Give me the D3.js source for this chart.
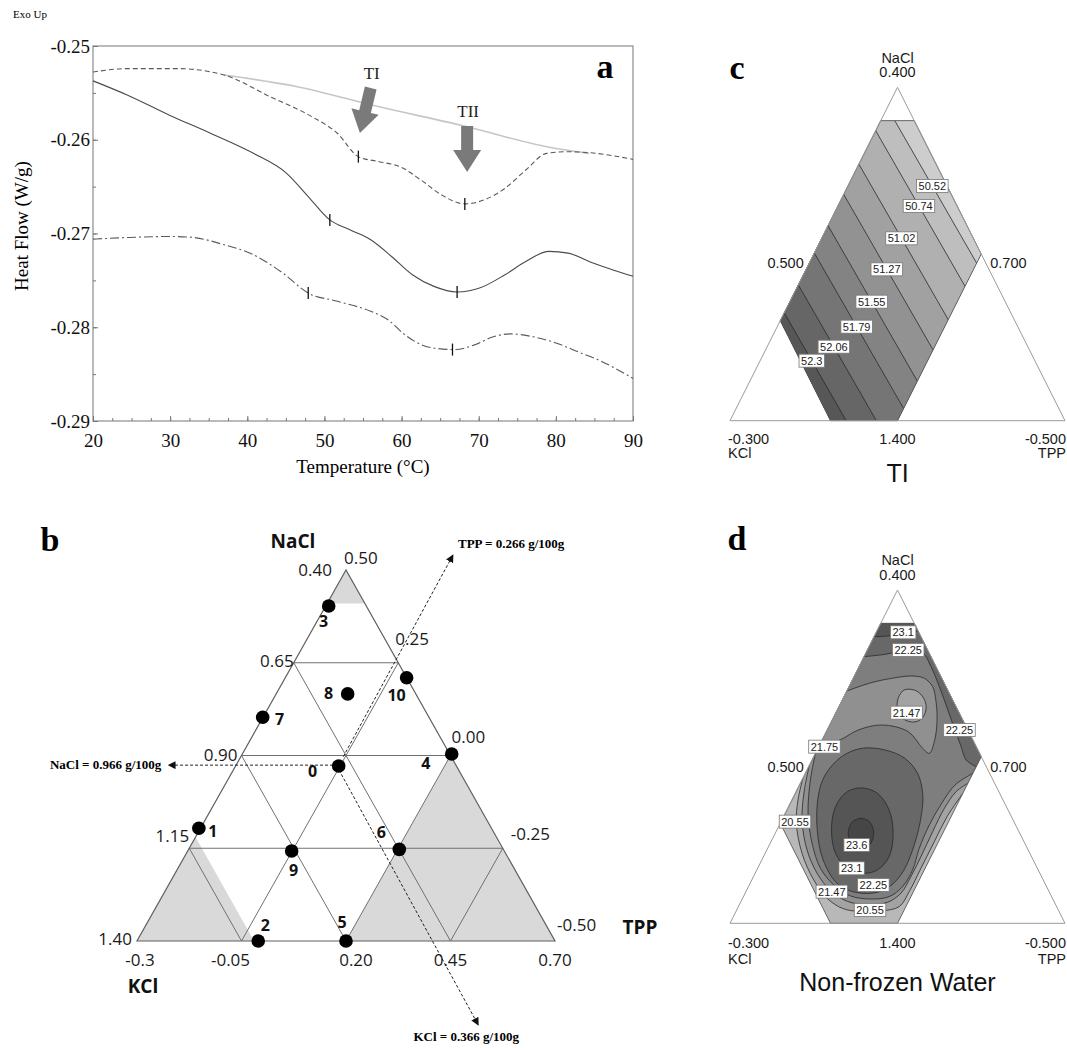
<!DOCTYPE html>
<html>
<head>
<meta charset="utf-8">
<script src="https://cdn.jsdelivr.net/npm/d3@7"></script>
<style>
  body { margin: 0; background: #fff; }
  svg { display: block; }
</style>
</head>
<body>
<script>

// ---------------- DATA ----------------

// panel a : DSC thermograms, [temperature C, heat flow W/g]
const tempTicks = [20, 30, 40, 50, 60, 70, 80, 90];
const flowTicks = [-0.25, -0.26, -0.27, -0.28, -0.29];

const dscBaseline = [[37.0,-0.2531],[46.2,-0.25429],[57.1,-0.25649],[68.0,-0.25851],[78.8,-0.26074],[84.3,-0.26145]];
const dscDashed = [[20,-0.25277],[24.5,-0.25241],[31,-0.25241],[37,-0.2531],[43,-0.25543],[48.4,-0.25755],[51.7,-0.25933],[54.4,-0.2618],[57.1,-0.26234],[59.8,-0.26287],[62.5,-0.26429],[65.2,-0.26589],[68.2,-0.26684],[70.7,-0.26642],[73.4,-0.26518],[76.1,-0.26323],[78.8,-0.26145],[81.6,-0.26128],[84.3,-0.26138],[90,-0.26209]];
const dscSolid = [[20,-0.25372],[24.5,-0.25525],[29.9,-0.25738],[35.3,-0.25933],[40.8,-0.26145],[45.1,-0.26358],[47.9,-0.26606],[50.7,-0.26855],[53.3,-0.26961],[56,-0.27067],[58.7,-0.27245],[61.4,-0.2744],[64.2,-0.27564],[67.2,-0.27624],[70.1,-0.27582],[73.4,-0.2744],[76.1,-0.27298],[79.1,-0.27191],[81.6,-0.27209],[84.3,-0.27298],[90,-0.27457]];
const dscDashDot = [[20,-0.2706],[24.5,-0.27043],[29.9,-0.27032],[32.6,-0.27039],[37,-0.2712],[40.8,-0.27227],[44.6,-0.27422],[47.9,-0.27635],[51.7,-0.27723],[56,-0.2783],[58.2,-0.27918],[60.4,-0.28078],[62.5,-0.28184],[64.7,-0.28227],[66.9,-0.28238],[69.6,-0.28184],[71.8,-0.28103],[74.2,-0.28071],[76.7,-0.28096],[80,-0.28167],[83.2,-0.28273],[85.4,-0.28344],[90,-0.28546]];
const peakMarks = [[54.4,-0.2618],[68.2,-0.26684],[50.7,-0.26855],[67.2,-0.27624],[47.9,-0.27635],[66.6,-0.28238]];
const peakArrows = [
  {name: "TI",  tail: [56.0, -0.25448], tip: [54.6, -0.25928]},
  {name: "TII", tail: [68.5, -0.25853], tip: [68.5, -0.26344]}
];

// panel b : mixture design, [run, u, v, label dx, label dy]   (u across base, v up, 0..1)
const designRuns = [
  ["0", 0.4825, 0.4717, -26, 5], ["1", 0.148, 0.3038, 14, 3], ["2", 0.29, 0, 7, -16],
  ["3", 0.4586, 0.903, -5, 15], ["4", 0.7529, 0.504, -26, 9], ["5", 0.5, 0, -4, -19],
  ["6", 0.6275, 0.247, -18, -17], ["7", 0.3007, 0.603, 17, 2], ["8", 0.504, 0.666, -19, -1],
  ["9", 0.37, 0.2426, 2, 19], ["10", 0.645, 0.7097, -10, 17]
];
const gridLevels = [0.25, 0.5, 0.75];
const naclTicks = ["0.40", "0.65", "0.90", "1.15", "1.40"];
const tppTicks = ["0.50", "0.25", "0.00", "-0.25", "-0.50"];
const kclTicks = ["-0.3", "-0.05", "0.20", "0.45", "0.70"];
const excluded = [
  [[0.5,1],[0.455,0.91],[0.545,0.91]],
  [[0,0],[0.25,0],[0.125,0.25]],
  [[0.125,0.25],[0.14,0.28],[0.28,0],[0.25,0]],
  [[0.5,0],[1,0],[0.75,0.5]]
];
const optimumLines = [
  {text: "NaCl = 0.966 g/100g", from: [0.469,0.474], to: [0.075,0.474]},
  {text: "TPP = 0.266 g/100g", from: [0.4935,0.4968], to: [0.756,1.0404]},
  {text: "KCl = 0.366 g/100g", from: [0.4833,0.4609], to: [0.8165,-0.2264]}
];

// panels c and d : feasible region of the design in the same frame
const mixRegion = [[0.45,0.9],[0.55,0.9],[0.75,0.5],[0.5,0],[0.3,0],[0.15,0.3]];

// panel c : TI contours (straight lines), level and label position, line ends
const tiLevels = [50.52, 50.74, 51.02, 51.27, 51.55, 51.79, 52.06, 52.3];
const tiLabelAt = [[0.604,0.704],[0.564,0.644],[0.512,0.547],[0.468,0.454],[0.423,0.357],[0.378,0.282],[0.31,0.222],[0.244,0.18]];
const tiLines = [
  [[0.154,1.491],[1.054,-0.083]], [[0.114,1.431],[1.014,-0.143]], [[0.062,1.334],[0.962,-0.24]],
  [[0.018,1.241],[0.918,-0.333]], [[-0.027,1.144],[0.873,-0.43]], [[-0.072,1.069],[0.828,-0.505]],
  [[-0.14,1.009],[0.76,-0.565]], [[-0.206,0.967],[0.694,-0.607]]
];

// panel d : non-frozen water contours
const nfw2055 = [[0.218,0.436],[0.203,0.37],[0.198,0.30],[0.215,0.21],[0.25,0.13],[0.29,0.075],[0.335,0.045],[0.39,0.035],[0.45,0.037],[0.505,0.05],[0.535,0.095],[0.57,0.165],[0.61,0.245],[0.648,0.32],[0.695,0.39]];
const nfw2147 = [[0.237,0.474],[0.222,0.40],[0.215,0.31],[0.23,0.22],[0.26,0.15],[0.3,0.098],[0.35,0.066],[0.41,0.056],[0.47,0.063],[0.51,0.09],[0.54,0.14],[0.57,0.2],[0.605,0.275],[0.64,0.345],[0.675,0.395],[0.71,0.42]];
const nfw2175 = [[0.255,0.51],[0.24,0.43],[0.233,0.33],[0.245,0.24],[0.27,0.165],[0.31,0.115],[0.36,0.082],[0.42,0.073],[0.475,0.08],[0.515,0.11],[0.545,0.16],[0.565,0.225],[0.595,0.295],[0.632,0.36],[0.672,0.415],[0.725,0.45]];
const nfwTongue = [[0.349,0.697],[0.393,0.713],[0.433,0.725],[0.483,0.735],[0.542,0.742],[0.58,0.735],[0.605,0.71],[0.615,0.665],[0.618,0.605],[0.61,0.545],[0.595,0.51],[0.575,0.525],[0.532,0.575],[0.453,0.595],[0.383,0.58],[0.323,0.548],[0.27,0.54]];
const nfwIsland = [[0.52,0.70],[0.555,0.698],[0.58,0.672],[0.585,0.64],[0.57,0.612],[0.545,0.604],[0.515,0.615],[0.5,0.64],[0.502,0.675]];
const nfw2225Top = [[0.4,0.8],[0.463,0.807],[0.532,0.82],[0.575,0.812],[0.6,0.77],[0.625,0.71],[0.645,0.655],[0.668,0.59],[0.69,0.53],[0.705,0.49],[0.735,0.47]];
const nfw2225Egg = [[0.264,0.385],[0.284,0.445],[0.333,0.5],[0.393,0.525],[0.463,0.52],[0.522,0.495],[0.56,0.45],[0.575,0.39],[0.572,0.33],[0.55,0.235],[0.51,0.145],[0.46,0.1],[0.393,0.09],[0.325,0.115],[0.278,0.19],[0.26,0.285]];
const nfw231Top = [[0.43,0.86],[0.47,0.862],[0.52,0.87],[0.562,0.877]];
const nfw231Egg = [[0.395,0.406],[0.44,0.39],[0.475,0.34],[0.487,0.27],[0.475,0.2],[0.44,0.16],[0.395,0.15],[0.35,0.165],[0.315,0.21],[0.303,0.28],[0.315,0.35],[0.35,0.395]];
const nfw236 = [[0.391,0.315],[0.418,0.303],[0.429,0.27],[0.418,0.237],[0.391,0.225],[0.364,0.237],[0.353,0.27],[0.364,0.303]];
const nfwLabels = [
  ["23.1",0.517,0.873],["22.25",0.532,0.82],["21.47",0.527,0.632],["22.25",0.685,0.58],
  ["21.75",0.282,0.53],["20.55",0.194,0.305],["23.6",0.378,0.235],["23.1",0.363,0.165],
  ["22.25",0.428,0.115],["21.47",0.304,0.095],["20.55",0.418,0.04]
];

// ---------------- SETUP ----------------

const svg = d3.select("body").append("svg")
  .attr("width", 1067)
  .attr("height", 1048);

const serif = "Liberation Serif, Times New Roman, serif";
const sans = "Liberation Sans, Arial, sans-serif";
const calib = "Open Sans, Liberation Sans, sans-serif";

// ================= PANEL A =================

const boxA = { left: 93, right: 633, top: 46, bottom: 421 };
const xA = d3.scaleLinear().domain([20, 90]).range([boxA.left, boxA.right]);
const yA = d3.scaleLinear().domain([-0.29, -0.25]).range([boxA.bottom, boxA.top]);

const gA = svg.append("g");

gA.append("rect")
  .attr("x", boxA.left).attr("y", boxA.top)
  .attr("width", boxA.right - boxA.left)
  .attr("height", boxA.bottom - boxA.top)
  .attr("fill", "none").attr("stroke", "#8c8c8c").attr("stroke-width", 1.2);

// minor ticks, pointing inside
gA.append("g").attr("transform", `translate(0,${boxA.bottom})`)
  .call(d3.axisBottom(xA).tickValues(d3.range(20, 90.01, 2.5)).tickSize(-3).tickFormat(""))
  .call(g => g.select(".domain").remove());
gA.append("g").attr("transform", `translate(${boxA.left},0)`)
  .call(d3.axisLeft(yA).tickValues(d3.range(-0.29, -0.2499, 0.005)).tickSize(-3).tickFormat(""))
  .call(g => g.select(".domain").remove());

const xAxisA = gA.append("g").attr("transform", `translate(0,${boxA.bottom})`)
  .call(d3.axisBottom(xA).tickValues(tempTicks).tickSize(-5).tickPadding(13).tickFormat(d => d));
const yAxisA = gA.append("g").attr("transform", `translate(${boxA.left},0)`)
  .call(d3.axisLeft(yA).tickValues(flowTicks).tickSize(-5).tickPadding(3).tickFormat(d => d.toFixed(2)));

[xAxisA, yAxisA].forEach(ax => {
  ax.select(".domain").remove();
  ax.selectAll("text").attr("font-family", serif).style("font-size", "19px").attr("fill", "#111");
});
gA.selectAll(".tick line").attr("stroke", "#777");

const lineA = d3.line().x(d => xA(d[0])).y(d => yA(d[1])).curve(d3.curveMonotoneX);

gA.append("path").datum(dscBaseline).attr("d", lineA)
  .attr("fill", "none").attr("stroke", "#c6c6c6").attr("stroke-width", 1.6);
gA.append("path").datum(dscDashed).attr("d", lineA)
  .attr("fill", "none").attr("stroke", "#5a5a5a").attr("stroke-width", 1.1).attr("stroke-dasharray", "5,3");
gA.append("path").datum(dscSolid).attr("d", lineA)
  .attr("fill", "none").attr("stroke", "#4a4a4a").attr("stroke-width", 1.1);
gA.append("path").datum(dscDashDot).attr("d", lineA)
  .attr("fill", "none").attr("stroke", "#5a5a5a").attr("stroke-width", 1.1).attr("stroke-dasharray", "9,3,2,3");

gA.selectAll("line.mark").data(peakMarks).enter().append("line")
  .attr("class", "mark")
  .attr("x1", d => xA(d[0])).attr("x2", d => xA(d[0]))
  .attr("y1", d => yA(d[1]) - 6).attr("y2", d => yA(d[1]) + 6)
  .attr("stroke", "#111").attr("stroke-width", 1.3);

// block arrows TI / TII
peakArrows.forEach(a => {
  const x0 = xA(a.tail[0]), y0 = yA(a.tail[1]);
  const x1 = xA(a.tip[0]), y1 = yA(a.tip[1]);
  const L = Math.hypot(x1 - x0, y1 - y0);
  const ang = Math.atan2(y1 - y0, x1 - x0) * 180 / Math.PI;
  const h = 22;
  const pts = [[0,-6],[L-h,-6],[L-h,-14],[L,0],[L-h,14],[L-h,6],[0,6]];
  gA.append("polygon")
    .attr("points", pts.map(p => p.join(",")).join(" "))
    .attr("transform", `translate(${x0},${y0}) rotate(${ang})`)
    .attr("fill", "#7a7a7a");
  gA.append("text").attr("x", x0 + 1).attr("y", y0 - 9)
    .attr("text-anchor", "middle").attr("font-family", serif)
    .style("font-size", "17px").attr("fill", "#222").text(a.name);
});

gA.append("text").attr("x", 605).attr("y", 78).attr("text-anchor", "middle")
  .attr("font-family", serif).attr("font-weight", "bold").style("font-size", "34px").text("a");
gA.append("text").attr("x", 13).attr("y", 18)
  .attr("font-family", serif).style("font-size", "11px").text("Exo Up");
gA.append("text").attr("transform", "translate(28,226) rotate(-90)").attr("text-anchor", "middle")
  .attr("font-family", serif).style("font-size", "19px").text("Heat Flow (W/g)");
gA.append("text").attr("x", 363).attr("y", 473).attr("text-anchor", "middle")
  .attr("font-family", serif).style("font-size", "19px").text("Temperature (\u00B0C)");

// ================= PANEL B =================

const xB = d3.scaleLinear().domain([0, 1]).range([137, 555]);
const yB = d3.scaleLinear().domain([0, 1]).range([941, 570]);
const lineB = d3.line().x(d => xB(d[0])).y(d => yB(d[1]));
const gB = svg.append("g");

gB.selectAll("path.excl").data(excluded).enter().append("path")
  .attr("class", "excl").attr("d", d => lineB(d) + "Z")
  .attr("fill", "#d9d9d9");

const gridSegs = [];
gridLevels.forEach(k => {
  gridSegs.push([[k / 2, k], [1 - k / 2, k]]);               // parallel to base
  gridSegs.push([[k, 0], [k / 2, k]]);                       // parallel to right side
  gridSegs.push([[k, 0], [(1 + k) / 2, 1 - k]]);             // parallel to left side
});
gB.selectAll("path.grid").data(gridSegs).enter().append("path")
  .attr("class", "grid").attr("d", lineB)
  .attr("stroke", "#707070").attr("stroke-width", 1).attr("fill", "none");
gB.append("path").attr("d", lineB([[0,0],[1,0],[0.5,1]]) + "Z")
  .attr("fill", "none").attr("stroke", "#606060").attr("stroke-width", 1.2);

svg.append("defs").append("marker")
  .attr("id", "ah").attr("viewBox", "0 0 10 10").attr("refX", 9).attr("refY", 5)
  .attr("markerWidth", 8).attr("markerHeight", 8).attr("markerUnits", "userSpaceOnUse")
  .attr("orient", "auto")
  .append("path").attr("d", "M0,0 L10,5 L0,10 Z").attr("fill", "#111");

gB.selectAll("line.opt").data(optimumLines).enter().append("line")
  .attr("class", "opt")
  .attr("x1", d => xB(d.from[0])).attr("y1", d => yB(d.from[1]))
  .attr("x2", d => xB(d.to[0])).attr("y2", d => yB(d.to[1]))
  .attr("stroke", "#222").attr("stroke-width", 1).attr("stroke-dasharray", "3,2")
  .attr("marker-end", "url(#ah)");

const optText = gB.append("g").attr("font-family", serif).attr("font-weight", "bold").style("font-size", "13px");
optText.append("text").attr("x", xB(optimumLines[0].to[0]) - 7).attr("y", yB(optimumLines[0].to[1]) + 4)
  .attr("text-anchor", "end").text(optimumLines[0].text);
optText.append("text").attr("x", xB(optimumLines[1].to[0]) + 5).attr("y", yB(optimumLines[1].to[1]) - 7)
  .attr("text-anchor", "start").text(optimumLines[1].text);
optText.append("text").attr("x", xB(optimumLines[2].to[0]) - 12).attr("y", yB(optimumLines[2].to[1]) + 16)
  .attr("text-anchor", "middle").text(optimumLines[2].text);

gB.selectAll("circle").data(designRuns).enter().append("circle")
  .attr("cx", d => xB(d[1])).attr("cy", d => yB(d[2])).attr("r", 6.8)
  .attr("fill", "#000");
gB.selectAll("text.run").data(designRuns).enter().append("text")
  .attr("class", "run")
  .attr("x", d => xB(d[1]) + d[3]).attr("y", d => yB(d[2]) + d[4] + 6)
  .attr("text-anchor", "middle").attr("font-family", calib).attr("font-weight", "bold")
  .style("font-size", "16px").attr("fill", "#111").text(d => d[0]);

// side tick labels
const naclDx = [-14, 0, -4, 0, -5], naclDy = [0, -2, -1, -12, -2];
const tppDx = [-2, -3, 1, 8, 2], tppDy = [-12, -24, -19, -14, -16];
const kclDx = [3, -11, 10, 0, 0];
const tickB = gB.append("g").attr("font-family", calib).style("font-size", "17px").attr("fill", "#1a1a1a");
naclTicks.forEach((t, i) => {
  const v = 1 - i / 4;
  tickB.append("text").attr("x", xB(v / 2) + naclDx[i]).attr("y", yB(v) + naclDy[i] + 6)
    .attr("text-anchor", "end").text(t);
});
tppTicks.forEach((t, i) => {
  const v = 1 - i / 4;
  tickB.append("text").attr("x", xB(1 - v / 2) + tppDx[i]).attr("y", yB(v) + tppDy[i] + 6)
    .attr("text-anchor", "start").text(t);
});
kclTicks.forEach((t, i) => {
  tickB.append("text").attr("x", xB(i / 4) + kclDx[i]).attr("y", yB(0) + 25)
    .attr("text-anchor", "middle").text(t);
});

const nameB = gB.append("g").attr("font-family", calib).attr("font-weight", "bold").style("font-size", "19px").attr("fill", "#111");
nameB.append("text").attr("x", 293).attr("y", 548).attr("text-anchor", "middle").text("NaCl");
nameB.append("text").attr("x", 640).attr("y", 934).attr("text-anchor", "middle").text("TPP");
nameB.append("text").attr("x", 143).attr("y", 993).attr("text-anchor", "middle").text("KCl");

gB.append("text").attr("x", 50).attr("y", 551).attr("text-anchor", "middle")
  .attr("font-family", serif).attr("font-weight", "bold").style("font-size", "34px").text("b");

// ================= PANELS C and D =================

function ternaryFrame(g, xs, ys, panelName, title, t) {
  const ln = d3.line().x(d => xs(d[0])).y(d => ys(d[1]));
  g.append("path").attr("d", ln([[0,0],[1,0],[0.5,1]]) + "Z")
    .attr("fill", "none").attr("stroke", "#9a9a9a").attr("stroke-width", 1);
  const lab = g.append("g").attr("font-family", sans).style("font-size", "14.5px").attr("fill", "#1a1a1a");
  lab.append("text").attr("x", xs(0.5)).attr("y", ys(1) - t.nacl).attr("text-anchor", "middle").text("NaCl");
  lab.append("text").attr("x", xs(0.5)).attr("y", ys(1) - t.apex).attr("text-anchor", "middle").text("0.400");
  lab.append("text").attr("x", xs(0.25) - 10).attr("y", ys(0.5) + t.mid).attr("text-anchor", "end").text("0.500");
  lab.append("text").attr("x", xs(0.75) + 9).attr("y", ys(0.5) + t.mid).attr("text-anchor", "start").text("0.700");
  lab.append("text").attr("x", xs(0.5)).attr("y", ys(0) + t.base).attr("text-anchor", "middle").text("1.400");
  lab.append("text").attr("x", xs(0) - 2).attr("y", ys(0) + t.base).attr("text-anchor", "start").text("-0.300");
  lab.append("text").attr("x", xs(0) - 2).attr("y", ys(0) + t.base2).attr("text-anchor", "start").text("KCl");
  lab.append("text").attr("x", xs(1) + 1).attr("y", ys(0) + t.base).attr("text-anchor", "end").text("-0.500");
  lab.append("text").attr("x", xs(1) + 1).attr("y", ys(0) + t.base2).attr("text-anchor", "end").text("TPP");
  g.append("text").attr("x", xs(0.5)).attr("y", ys(0) + t.title).attr("text-anchor", "middle")
    .attr("font-family", sans).style("font-size", "25px").attr("fill", "#111").text(title);
  g.append("text").attr("x", xs(0) + 7).attr("y", ys(1) - t.letter).attr("text-anchor", "middle")
    .attr("font-family", serif).attr("font-weight", "bold").style("font-size", "34px").text(panelName);
}

function contourLabel(g, xs, ys, text, u, v) {
  const lg = g.append("g").attr("transform", `translate(${xs(u)},${ys(v)})`);
  const tx = lg.append("text").attr("text-anchor", "middle").attr("y", 4)
    .attr("font-family", sans).style("font-size", "11px").attr("fill", "#222").text(text);
  const w = tx.node().getComputedTextLength() + 4;
  lg.insert("rect", "text").attr("x", -w / 2).attr("y", -6.5).attr("width", w).attr("height", 13)
    .attr("fill", "#fff").attr("stroke", "#777").attr("stroke-width", 0.8);
}

// ---- panel c : TI ----
const xC = d3.scaleLinear().domain([0, 1]).range([730, 1065]);
const yC = d3.scaleLinear().domain([0, 1]).range([420.7, 87.3]);
const lineC = d3.line().x(d => xC(d[0])).y(d => yC(d[1]));
const gC = svg.append("g");

gC.append("clipPath").attr("id", "clipC").append("path").attr("d", lineC(mixRegion) + "Z");
const tiShade = d3.scaleLinear().domain([0, tiLevels.length]).range(["#cdcdcd", "#575757"]);
const bandsC = gC.append("g").attr("clip-path", "url(#clipC)");
bandsC.append("path").attr("d", lineC(mixRegion) + "Z").attr("fill", tiShade(0));
tiLines.forEach((l, i) => {
  const a = l[0], b = l[1];
  const half = [a, b, [b[0] - 2, b[1] - 1.2], [a[0] - 2, a[1] - 1.2]];
  bandsC.append("path").attr("d", lineC(half) + "Z").attr("fill", tiShade(i + 1));
});
bandsC.selectAll("path.cl").data(tiLines).enter().append("path")
  .attr("class", "cl").attr("d", lineC)
  .attr("fill", "none").attr("stroke", "#2a2a2a").attr("stroke-width", 0.8);
gC.append("path").attr("d", lineC(mixRegion) + "Z")
  .attr("fill", "none").attr("stroke", "#555").attr("stroke-width", 0.9);

ternaryFrame(gC, xC, yC, "c", "TI", {nacl: 24, apex: 10, mid: 14, base: 23, base2: 37, title: 61, letter: 8});
tiLevels.forEach((lv, i) => contourLabel(gC, xC, yC, String(lv), tiLabelAt[i][0], tiLabelAt[i][1]));

// ---- panel d : Non-frozen water ----
const xD = d3.scaleLinear().domain([0, 1]).range([730, 1065]);
const yD = d3.scaleLinear().domain([0, 1]).range([923.3, 590]);
const lineD = d3.line().x(d => xD(d[0])).y(d => yD(d[1]));
const curveD = d3.line().x(d => xD(d[0])).y(d => yD(d[1])).curve(d3.curveCatmullRom);
const loopD = d3.line().x(d => xD(d[0])).y(d => yD(d[1])).curve(d3.curveCatmullRomClosed);
const gD = svg.append("g");

gD.append("clipPath").attr("id", "clipD").append("path").attr("d", lineD(mixRegion) + "Z");
const nfwShade = ["#b8b8b8", "#a3a3a3", "#909090", "#7e7e7e", "#686868", "#555555", "#464646"];
const bandsD = gD.append("g").attr("clip-path", "url(#clipD)");

// open contour + points running outside the region to close the fill
function openFill(pts, tail) {
  return curveD(pts) + lineD([pts[pts.length - 1]].concat(tail)).replace("M", "L") + "Z";
}
bandsD.append("path").attr("d", lineD(mixRegion) + "Z").attr("fill", nfwShade[0]);
bandsD.append("path").attr("d", openFill(nfw2055, [[0.9,0.39],[0.9,1.1],[0.1,1.1],[0.1,0.436]])).attr("fill", nfwShade[1]);
bandsD.append("path").attr("d", openFill(nfw2147, [[0.9,0.42],[0.9,1.1],[0.1,1.1],[0.1,0.474]])).attr("fill", nfwShade[2]);
bandsD.append("path").attr("d", openFill(nfw2175, [[0.9,0.45],[0.9,1.1],[0.1,1.1],[0.1,0.51]])).attr("fill", nfwShade[3]);
bandsD.append("path").attr("d", openFill(nfwTongue, [[0.2,0.54],[0.2,0.697]])).attr("fill", nfwShade[2]);
bandsD.append("path").attr("d", loopD(nfwIsland)).attr("fill", nfwShade[1]);
bandsD.append("path").attr("d", openFill(nfw2225Top, [[0.95,0.47],[0.95,1.1],[0.2,1.1],[0.2,0.8]])).attr("fill", nfwShade[4]);
bandsD.append("path").attr("d", loopD(nfw2225Egg)).attr("fill", nfwShade[4]);
bandsD.append("path").attr("d", openFill(nfw231Top, [[0.8,0.877],[0.8,1.1],[0.2,1.1],[0.2,0.86]])).attr("fill", nfwShade[5]);
bandsD.append("path").attr("d", loopD(nfw231Egg)).attr("fill", nfwShade[5]);
bandsD.append("path").attr("d", loopD(nfw236)).attr("fill", nfwShade[6]);

const strokeD = bandsD.append("g").attr("fill", "none").attr("stroke", "#2a2a2a").attr("stroke-width", 0.8);
[nfw2055, nfw2147, nfw2175, nfwTongue, nfw2225Top, nfw231Top].forEach(p => strokeD.append("path").attr("d", curveD(p)));
[nfwIsland, nfw2225Egg, nfw231Egg, nfw236].forEach(p => strokeD.append("path").attr("d", loopD(p)));

gD.append("path").attr("d", lineD(mixRegion) + "Z")
  .attr("fill", "none").attr("stroke", "#555").attr("stroke-width", 0.9);

ternaryFrame(gD, xD, yD, "d", "Non-frozen Water", {nacl: 25, apex: 10, mid: 15, base: 25, base2: 41, title: 68, letter: 40});
nfwLabels.forEach(l => contourLabel(gD, xD, yD, l[0], l[1], l[2]));

</script>
</body>
</html>
